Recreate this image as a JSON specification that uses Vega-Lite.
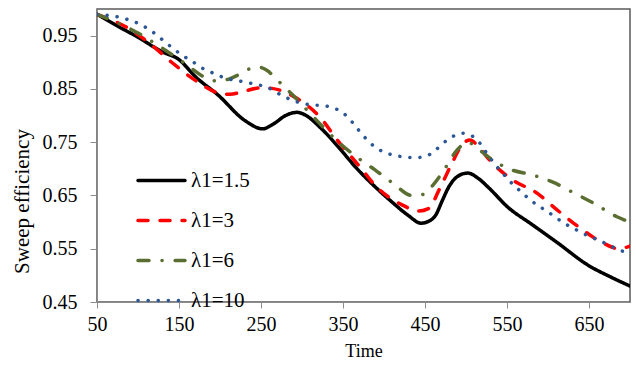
{
  "$schema": "https://vega.github.io/schema/vega-lite/v6.json",
  "width": 533,
  "height": 293,
  "autosize": {"type": "none"},
  "padding": {"left": 97, "top": 9, "right": 6, "bottom": 68},
  "background": "white",
  "config": {
    "font": "Liberation Serif",
    "view": {"stroke": "#595959", "strokeWidth": 1.5},
    "axis": {"grid": false, "domainColor": "#8c8c8c", "tickColor": "#8c8c8c", "labelColor": "black", "titleColor": "black", "labelFont": "Liberation Serif", "titleFont": "Liberation Serif", "titleFontWeight": "normal"},
    "legend": {"labelFont": "Liberation Serif"},
    "text": {"font": "Liberation Serif"}
  },
  "data": {"values": [
    {"s": "λ1=1.5", "t": 50, "v": 0.99},
    {"s": "λ1=1.5", "t": 75, "v": 0.968},
    {"s": "λ1=1.5", "t": 100, "v": 0.947},
    {"s": "λ1=1.5", "t": 129, "v": 0.92},
    {"s": "λ1=1.5", "t": 150, "v": 0.905},
    {"s": "λ1=1.5", "t": 170, "v": 0.873},
    {"s": "λ1=1.5", "t": 198, "v": 0.838},
    {"s": "λ1=1.5", "t": 230, "v": 0.791},
    {"s": "λ1=1.5", "t": 252, "v": 0.775},
    {"s": "λ1=1.5", "t": 265, "v": 0.784},
    {"s": "λ1=1.5", "t": 280, "v": 0.8},
    {"s": "λ1=1.5", "t": 294, "v": 0.806},
    {"s": "λ1=1.5", "t": 305, "v": 0.8},
    {"s": "λ1=1.5", "t": 322, "v": 0.778},
    {"s": "λ1=1.5", "t": 346, "v": 0.738},
    {"s": "λ1=1.5", "t": 366, "v": 0.702},
    {"s": "λ1=1.5", "t": 390, "v": 0.665},
    {"s": "λ1=1.5", "t": 411, "v": 0.636},
    {"s": "λ1=1.5", "t": 430, "v": 0.612},
    {"s": "λ1=1.5", "t": 445, "v": 0.598},
    {"s": "λ1=1.5", "t": 455, "v": 0.602},
    {"s": "λ1=1.5", "t": 463, "v": 0.613},
    {"s": "λ1=1.5", "t": 471, "v": 0.64},
    {"s": "λ1=1.5", "t": 479, "v": 0.666},
    {"s": "λ1=1.5", "t": 490, "v": 0.686},
    {"s": "λ1=1.5", "t": 502, "v": 0.692},
    {"s": "λ1=1.5", "t": 515, "v": 0.682},
    {"s": "λ1=1.5", "t": 528, "v": 0.664},
    {"s": "λ1=1.5", "t": 551, "v": 0.628},
    {"s": "λ1=1.5", "t": 580, "v": 0.596},
    {"s": "λ1=1.5", "t": 610, "v": 0.563},
    {"s": "λ1=1.5", "t": 650, "v": 0.518},
    {"s": "λ1=1.5", "t": 675, "v": 0.498},
    {"s": "λ1=1.5", "t": 700, "v": 0.48},
    {"s": "λ1=3", "t": 50, "v": 0.99},
    {"s": "λ1=3", "t": 70, "v": 0.978},
    {"s": "λ1=3", "t": 88, "v": 0.964},
    {"s": "λ1=3", "t": 117, "v": 0.932},
    {"s": "λ1=3", "t": 141, "v": 0.9},
    {"s": "λ1=3", "t": 170, "v": 0.866},
    {"s": "λ1=3", "t": 197, "v": 0.843},
    {"s": "λ1=3", "t": 212, "v": 0.84},
    {"s": "λ1=3", "t": 230, "v": 0.846},
    {"s": "λ1=3", "t": 250, "v": 0.852},
    {"s": "λ1=3", "t": 263, "v": 0.851},
    {"s": "λ1=3", "t": 282, "v": 0.842},
    {"s": "λ1=3", "t": 301, "v": 0.825},
    {"s": "λ1=3", "t": 322, "v": 0.797},
    {"s": "λ1=3", "t": 343, "v": 0.754},
    {"s": "λ1=3", "t": 371, "v": 0.703},
    {"s": "λ1=3", "t": 391, "v": 0.666},
    {"s": "λ1=3", "t": 420, "v": 0.634},
    {"s": "λ1=3", "t": 443, "v": 0.621},
    {"s": "λ1=3", "t": 455, "v": 0.626},
    {"s": "λ1=3", "t": 467, "v": 0.66},
    {"s": "λ1=3", "t": 484, "v": 0.714},
    {"s": "λ1=3", "t": 495, "v": 0.745},
    {"s": "λ1=3", "t": 505, "v": 0.754},
    {"s": "λ1=3", "t": 515, "v": 0.742},
    {"s": "λ1=3", "t": 529, "v": 0.716},
    {"s": "λ1=3", "t": 557, "v": 0.679},
    {"s": "λ1=3", "t": 587, "v": 0.654},
    {"s": "λ1=3", "t": 611, "v": 0.623},
    {"s": "λ1=3", "t": 639, "v": 0.589},
    {"s": "λ1=3", "t": 667, "v": 0.561},
    {"s": "λ1=3", "t": 686, "v": 0.55},
    {"s": "λ1=3", "t": 700, "v": 0.555},
    {"s": "λ1=6", "t": 50, "v": 0.99},
    {"s": "λ1=6", "t": 75, "v": 0.974},
    {"s": "λ1=6", "t": 100, "v": 0.955},
    {"s": "λ1=6", "t": 129, "v": 0.927},
    {"s": "λ1=6", "t": 157, "v": 0.898},
    {"s": "λ1=6", "t": 180, "v": 0.873},
    {"s": "λ1=6", "t": 195, "v": 0.865},
    {"s": "λ1=6", "t": 210, "v": 0.868},
    {"s": "λ1=6", "t": 222, "v": 0.876},
    {"s": "λ1=6", "t": 235, "v": 0.887},
    {"s": "λ1=6", "t": 247, "v": 0.891},
    {"s": "λ1=6", "t": 258, "v": 0.884},
    {"s": "λ1=6", "t": 269, "v": 0.868},
    {"s": "λ1=6", "t": 289, "v": 0.838},
    {"s": "λ1=6", "t": 305, "v": 0.812},
    {"s": "λ1=6", "t": 326, "v": 0.778},
    {"s": "λ1=6", "t": 346, "v": 0.748},
    {"s": "λ1=6", "t": 367, "v": 0.722},
    {"s": "λ1=6", "t": 389, "v": 0.698},
    {"s": "λ1=6", "t": 411, "v": 0.673},
    {"s": "λ1=6", "t": 434, "v": 0.65},
    {"s": "λ1=6", "t": 448, "v": 0.652},
    {"s": "λ1=6", "t": 460, "v": 0.67},
    {"s": "λ1=6", "t": 472, "v": 0.695},
    {"s": "λ1=6", "t": 489, "v": 0.735},
    {"s": "λ1=6", "t": 502, "v": 0.75},
    {"s": "λ1=6", "t": 515, "v": 0.737},
    {"s": "λ1=6", "t": 533, "v": 0.716},
    {"s": "λ1=6", "t": 554, "v": 0.699},
    {"s": "λ1=6", "t": 582, "v": 0.688},
    {"s": "λ1=6", "t": 606, "v": 0.675},
    {"s": "λ1=6", "t": 630, "v": 0.656},
    {"s": "λ1=6", "t": 655, "v": 0.636},
    {"s": "λ1=6", "t": 684, "v": 0.61},
    {"s": "λ1=6", "t": 700, "v": 0.6},
    {"s": "λ1=10", "t": 50, "v": 0.99},
    {"s": "λ1=10", "t": 63, "v": 0.988},
    {"s": "λ1=10", "t": 76, "v": 0.985},
    {"s": "λ1=10", "t": 88, "v": 0.98},
    {"s": "λ1=10", "t": 100, "v": 0.973},
    {"s": "λ1=10", "t": 112, "v": 0.963},
    {"s": "λ1=10", "t": 123, "v": 0.951},
    {"s": "λ1=10", "t": 133, "v": 0.938},
    {"s": "λ1=10", "t": 143, "v": 0.926},
    {"s": "λ1=10", "t": 154, "v": 0.913},
    {"s": "λ1=10", "t": 166, "v": 0.902},
    {"s": "λ1=10", "t": 176, "v": 0.891},
    {"s": "λ1=10", "t": 188, "v": 0.882},
    {"s": "λ1=10", "t": 200, "v": 0.874},
    {"s": "λ1=10", "t": 212, "v": 0.868},
    {"s": "λ1=10", "t": 227, "v": 0.864},
    {"s": "λ1=10", "t": 239, "v": 0.86},
    {"s": "λ1=10", "t": 251, "v": 0.856},
    {"s": "λ1=10", "t": 263, "v": 0.849},
    {"s": "λ1=10", "t": 275, "v": 0.838},
    {"s": "λ1=10", "t": 288, "v": 0.829},
    {"s": "λ1=10", "t": 300, "v": 0.823},
    {"s": "λ1=10", "t": 312, "v": 0.82},
    {"s": "λ1=10", "t": 324, "v": 0.819},
    {"s": "λ1=10", "t": 337, "v": 0.815},
    {"s": "λ1=10", "t": 350, "v": 0.805},
    {"s": "λ1=10", "t": 361, "v": 0.788},
    {"s": "λ1=10", "t": 371, "v": 0.769},
    {"s": "λ1=10", "t": 379, "v": 0.755},
    {"s": "λ1=10", "t": 389, "v": 0.741},
    {"s": "λ1=10", "t": 399, "v": 0.732},
    {"s": "λ1=10", "t": 411, "v": 0.726},
    {"s": "λ1=10", "t": 426, "v": 0.722},
    {"s": "λ1=10", "t": 438, "v": 0.721},
    {"s": "λ1=10", "t": 450, "v": 0.723},
    {"s": "λ1=10", "t": 462, "v": 0.734},
    {"s": "λ1=10", "t": 472, "v": 0.748},
    {"s": "λ1=10", "t": 483, "v": 0.76},
    {"s": "λ1=10", "t": 495, "v": 0.767},
    {"s": "λ1=10", "t": 507, "v": 0.762},
    {"s": "λ1=10", "t": 517, "v": 0.748},
    {"s": "λ1=10", "t": 525, "v": 0.73},
    {"s": "λ1=10", "t": 533, "v": 0.713},
    {"s": "λ1=10", "t": 541, "v": 0.698},
    {"s": "λ1=10", "t": 550, "v": 0.683},
    {"s": "λ1=10", "t": 557, "v": 0.671},
    {"s": "λ1=10", "t": 568, "v": 0.656},
    {"s": "λ1=10", "t": 578, "v": 0.642},
    {"s": "λ1=10", "t": 590, "v": 0.629},
    {"s": "λ1=10", "t": 600, "v": 0.619},
    {"s": "λ1=10", "t": 611, "v": 0.607},
    {"s": "λ1=10", "t": 623, "v": 0.595},
    {"s": "λ1=10", "t": 635, "v": 0.585},
    {"s": "λ1=10", "t": 645, "v": 0.577},
    {"s": "λ1=10", "t": 657, "v": 0.569},
    {"s": "λ1=10", "t": 670, "v": 0.56},
    {"s": "λ1=10", "t": 682, "v": 0.551},
    {"s": "λ1=10", "t": 694, "v": 0.544},
    {"s": "λ1=10", "t": 700, "v": 0.542}
  ]},
  "mark": {"type": "line", "interpolate": "monotone", "strokeWidth": 3.5, "strokeCap": "round", "strokeJoin": "round", "clip": true},
  "encoding": {
    "x": {"field": "t", "type": "quantitative", "title": "Time",
      "scale": {"domain": [50, 700], "nice": false, "zero": false},
      "axis": {"values": [50, 150, 250, 350, 450, 550, 650], "labelFont": "Liberation Serif", "titleFont": "Liberation Serif", "labelFontSize": 20, "titleFontSize": 18, "tickSize": 6, "labelPadding": 6, "titlePadding": 8, "labelFlush": false}},
    "y": {"field": "v", "type": "quantitative", "title": "Sweep efficiency",
      "scale": {"domain": [0.45, 1.0], "nice": false, "zero": false},
      "axis": {"values": [0.45, 0.55, 0.65, 0.75, 0.85, 0.95], "format": ".2f", "labelFont": "Liberation Serif", "titleFont": "Liberation Serif", "labelFontSize": 20, "titleFontSize": 21, "tickSize": 7, "labelPadding": 13, "titlePadding": 10, "titleY": 192, "labelFlush": false}},
    "color": {"field": "s", "type": "nominal", "sort": ["λ1=1.5", "λ1=3", "λ1=6", "λ1=10"],
      "scale": {"domain": ["λ1=1.5", "λ1=3", "λ1=6", "λ1=10"], "range": ["#000000", "#ff0000", "#5b6e31", "#2b5797"]},
      "legend": {"title": null, "orient": "none", "legendX": 39, "legendY": 146, "padding": 0, "symbolType": "stroke", "symbolSize": 2209, "symbolStrokeWidth": 3.5, "labelFont": "Liberation Serif", "labelFontSize": 21, "labelColor": "black", "labelOffset": 4, "rowPadding": 4,
        "encode": {"symbols": {"update": {"strokeCap": {"value": "round"}}}}}},
    "strokeDash": {"field": "s", "type": "nominal", "sort": ["λ1=1.5", "λ1=3", "λ1=6", "λ1=10"],
      "scale": {"domain": ["λ1=1.5", "λ1=3", "λ1=6", "λ1=10"], "range": [[1, 0], [10, 12], [11, 13, 0.1, 13], [0.1, 10]]},
      "legend": null}
  }
}
